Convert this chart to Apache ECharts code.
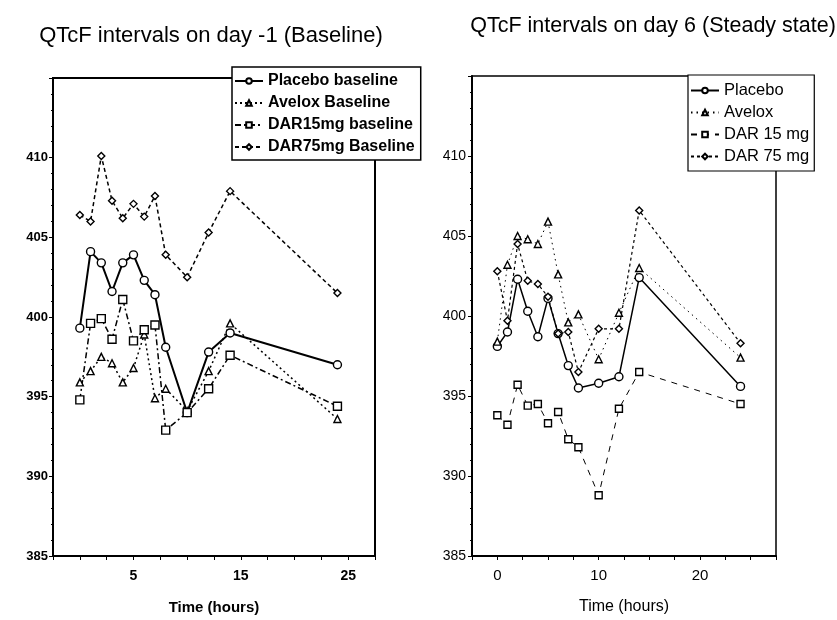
<!DOCTYPE html>
<html>
<head>
<meta charset="utf-8">
<script src="https://cdn.jsdelivr.net/npm/echarts@6/dist/echarts.min.js"></script>
<style>
  html, body { margin: 0; padding: 0; background: #fff; }
  #chart { width: 837px; height: 620px; }
</style>
</head>
<body>
<div id="chart"></div>
<script>
// Sampling times (hours after dosing)
const times = [0, 1, 2, 3, 4, 5, 6, 7, 8, 10, 12, 14, 24];

// Day -1 (baseline) mean QTcF, ms
const placeboBaseline = [399.3, 404.1, 403.4, 401.6, 403.4, 403.9, 402.3, 401.4, 398.1, 394.0, 397.8, 399.0, 397.0];
const aveloxBaseline  = [395.9, 396.6, 397.5, 397.1, 395.9, 396.8, 398.9, 394.9, 395.5, 394.1, 396.6, 399.6, 393.6];
const dar15Baseline   = [394.8, 399.6, 399.9, 398.6, 401.1, 398.5, 399.2, 399.5, 392.9, 394.0, 395.5, 397.6, 394.4];
const dar75Baseline   = [406.4, 406.0, 410.1, 407.3, 406.2, 407.1, 406.3, 407.6, 403.9, 402.5, 405.3, 407.9, 401.5];

// Day 6 (steady state) mean QTcF, ms
const placeboDay6 = [398.1, 399.0, 402.3, 400.3, 398.7, 401.1, 398.9, 396.9, 395.5, 395.8, 396.2, 402.4, 395.6];
const aveloxDay6  = [398.4, 403.2, 405.0, 404.8, 404.5, 405.9, 402.6, 399.6, 400.1, 397.3, 400.2, 403.0, 397.4];
const dar15Day6   = [393.8, 393.2, 395.7, 394.4, 394.5, 393.3, 394.0, 392.3, 391.8, 388.8, 394.2, 396.5, 394.5];
const dar75Day6   = [402.8, 399.7, 404.5, 402.2, 402.0, 401.2, 398.9, 399.0, 396.5, 399.2, 399.2, 406.6, 398.3];

// Axis tick labels
const leftXLabels = [5, 15, 25];
const rightXLabels = [0, 10, 20];
const yLabels = [385, 390, 395, 400, 405, 410];

const FONT = '"Liberation Sans", Arial, Helvetica, sans-serif';

function pairs(vals) { return times.map((t, i) => [t, vals[i]]); }

function mkSeries(name, vals, idx, symbol, size, dash, width) {
  return {
    name: name,
    type: 'line',
    xAxisIndex: idx,
    yAxisIndex: idx,
    data: pairs(vals),
    symbol: symbol,
    symbolSize: size,
    showAllSymbol: true,
    animation: false,
    lineStyle: { color: '#000', width: width, type: dash },
    itemStyle: { color: '#fff', borderColor: '#000', borderWidth: 1.4 },
    emphasis: { disabled: true }
  };
}

function xAxis(idx, labels, bold, fontSize, margin, nameGap) {
  return {
    type: 'value', gridIndex: idx, min: -2.5, max: 27.5, interval: 2.5,
    name: 'Time (hours)', nameLocation: 'middle', nameGap: nameGap,
    nameTextStyle: { color: '#000', fontFamily: FONT, fontSize: fontSize + 1, fontWeight: bold ? 'bold' : 'normal' },
    axisLine: { show: true, onZero: false, lineStyle: { color: '#000', width: 2 } },
    axisTick: { show: true, length: 4, lineStyle: { color: '#000', width: 1 } },
    axisLabel: {
      margin: margin, color: '#000', fontFamily: FONT, fontSize: fontSize, fontWeight: bold ? 'bold' : 'normal',
      formatter: v => labels.indexOf(v) >= 0 ? String(v) : ''
    },
    splitLine: { show: false }
  };
}

function yAxis(idx, bold, fontSize, margin) {
  return {
    type: 'value', gridIndex: idx, min: 385, max: 415, interval: 5,
    axisLine: { show: true, onZero: false, lineStyle: { color: '#000', width: 2 } },
    axisTick: { show: true, length: 4, lineStyle: { color: '#000', width: 1 } },
    minorTick: { show: true, splitNumber: 5, length: 2, lineStyle: { color: '#000', width: 1 } },
    axisLabel: {
      margin: margin, color: '#000', fontFamily: FONT, fontSize: fontSize, fontWeight: bold ? 'bold' : 'normal',
      formatter: v => yLabels.indexOf(v) >= 0 ? String(v) : ''
    },
    splitLine: { show: false }
  };
}

const chart = echarts.init(document.getElementById('chart'), null, { renderer: 'canvas' });

chart.setOption({
  backgroundColor: '#fff',
  animation: false,
  title: [
    { text: 'QTcF intervals on day -1 (Baseline)', left: 206, top: 20, textAlign: 'center',
      textStyle: { fontFamily: FONT, fontSize: 22, fontWeight: 'normal', color: '#000' } },
    { text: 'QTcF intervals on day 6 (Steady state)', left: 648, top: 10, textAlign: 'center',
      textStyle: { fontFamily: FONT, fontSize: 21.5, fontWeight: 'normal', color: '#000' } }
  ],
  grid: [
    { left: 53, top: 78, width: 322, height: 479, show: true, borderColor: '#000', borderWidth: 2, backgroundColor: 'transparent' },
    { left: 472, top: 76, width: 304, height: 485, show: true, borderColor: '#000', borderWidth: 1.5, backgroundColor: 'transparent' }
  ],
  xAxis: [
    xAxis(0, leftXLabels, true, 14, 13, 44),
    xAxis(1, rightXLabels, false, 15, 12, 43)
  ],
  yAxis: [
    yAxis(0, true, 13, 5),
    yAxis(1, false, 14, 6)
  ],
  legend: [
    {
      data: ['Placebo baseline', 'Avelox Baseline', 'DAR15mg baseline', 'DAR75mg Baseline'],
      orient: 'vertical', left: 232, top: 67,
      itemWidth: 28, itemHeight: 7, itemGap: 6,
      padding: [6, 6, 5, 2],
      backgroundColor: '#fff', borderColor: '#000', borderWidth: 1.5,
      textStyle: { fontFamily: FONT, fontSize: 16, fontWeight: 'bold', color: '#000' },
      selectedMode: false
    },
    {
      data: ['Placebo', 'Avelox', 'DAR 15 mg', 'DAR 75 mg'],
      orient: 'vertical', left: 688, top: 75,
      itemWidth: 28, itemHeight: 7, itemGap: 5,
      padding: [7, 5, 6, 2],
      backgroundColor: '#fff', borderColor: '#000', borderWidth: 1.2,
      textStyle: { fontFamily: FONT, fontSize: 16.5, fontWeight: 'normal', color: '#000' },
      selectedMode: false
    }
  ],
  series: [
    mkSeries('Placebo baseline', placeboBaseline, 0, 'circle', 8, 'solid', 2),
    mkSeries('Avelox Baseline', aveloxBaseline, 0, 'triangle', 7, [2, 3], 1.5),
    mkSeries('DAR15mg baseline', dar15Baseline, 0, 'rect', 8, [6, 3, 2, 3], 1.5),
    mkSeries('DAR75mg Baseline', dar75Baseline, 0, 'diamond', 7, [4, 3], 1.5),
    mkSeries('Placebo', placeboDay6, 1, 'circle', 8, 'solid', 1.5),
    mkSeries('Avelox', aveloxDay6, 1, 'triangle', 7, [1.5, 4], 1),
    mkSeries('DAR 15 mg', dar15Day6, 1, 'rect', 7, [6, 6], 1),
    mkSeries('DAR 75 mg', dar75Day6, 1, 'diamond', 7, [3, 3], 1.2)
  ]
});
</script>
</body>
</html>
